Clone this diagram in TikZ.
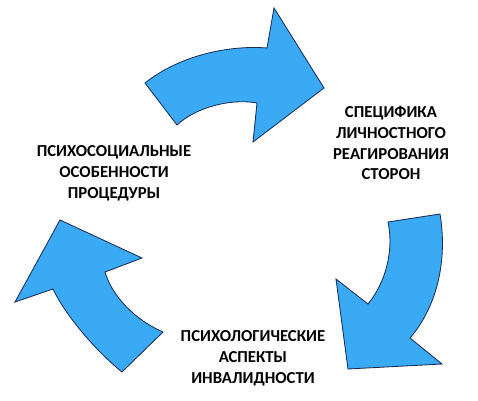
\documentclass[tikz,border=0pt]{standalone}
\usepackage{fontspec}
\setmainfont{Carlito}
\usetikzlibrary{calc}
\definecolor{arrblue}{RGB}{58,170,245}
\definecolor{arredge}{RGB}{25,45,85}

\begin{document}
\begin{tikzpicture}[x=0.025cm,y=-0.025cm,font=\bfseries\fontsize{11.9}{14.8}\selectfont]
 \tikzset{curvearrow/.style={fill=arrblue,draw=arredge,line width=0.6pt,line join=miter},
  caption/.style={align=center,inner sep=0pt}}
 \useasboundingbox (0,0) rectangle (478,400);
 % top arrow
 \draw[curvearrow] (145,83) .. controls (180,55) and (230,45) .. (267,48) -- (274,8) -- (324,88)
  -- (253,142) -- (257,103) .. controls (230,98) and (195,108) .. (177,125) -- cycle;
 % right arrow
 \draw[curvearrow] (440,214) -- (388,222) .. controls (394,250) and (386,282) .. (368,304)
  -- (336,279) -- (348,369) -- (442,364) -- (410,338) .. controls (436,308) and (448,262) .. cycle;
 % left arrow
 \draw[curvearrow] (60,220) -- (142,258) -- (105,272) .. controls (112,296) and (135,320) .. (163,332)
  -- (122,372) .. controls (95,350) and (66,316) .. (53,289) -- (15,302) -- cycle;
 \node[caption] (proc) at (114,173) {ПСИХОСОЦИАЛЬНЫЕ\\ОСОБЕННОСТИ\\ПРОЦЕДУРЫ};
 \node[caption] (react) at (391,143) {СПЕЦИФИКА\\ЛИЧНОСТНОГО\\РЕАГИРОВАНИЯ\\СТОРОН};
 \node[caption] (disab) at (253,358) {ПСИХОЛОГИЧЕСКИЕ\\АСПЕКТЫ\\ИНВАЛИДНОСТИ};
\end{tikzpicture}
\end{document}
